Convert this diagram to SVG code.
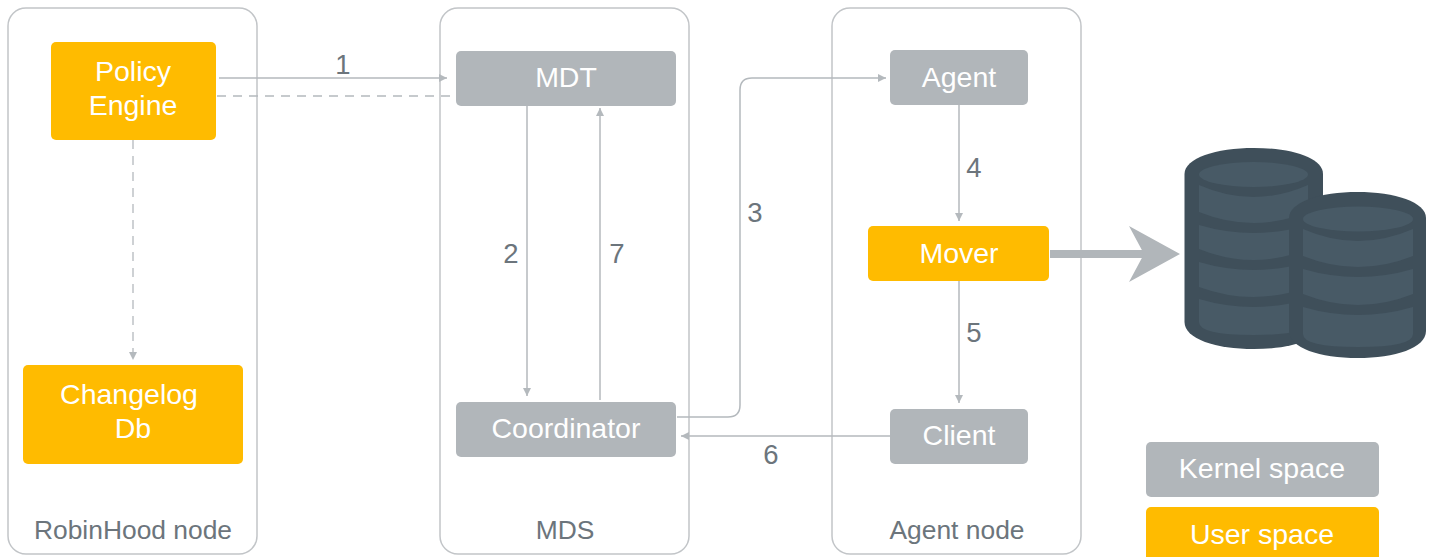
<svg xmlns="http://www.w3.org/2000/svg" width="1433" height="557" viewBox="0 0 1433 557">
<style>
text{font-family:"Liberation Sans",Arial,sans-serif;font-size:28.500px;text-anchor:middle}
.c{fill:none;stroke:#b4b9bd;stroke-width:1.5}
.d{stroke:#b4b9bd;stroke-width:1.300;stroke-dasharray:9 7}
.p{fill:#fff;stroke:#c2c5c8;stroke-width:1.5}
.k{fill:#b1b6ba}
.u{fill:#ffbb00}
.w{fill:#fff}
.g{fill:#6c757c}
.s{font-size:26.400px}
.n{font-size:27.500px}
.dk{fill:#3f4f5a}
.lt{fill:#485a66}
</style>
<defs>
<marker id="a" markerWidth="9" markerHeight="8" refX="8" refY="4" orient="auto" markerUnits="userSpaceOnUse"><path d="M0 0L8 4L0 8z" fill="#b4b9bd"/></marker>
</defs>
<g id="robinhood"><rect class="p" x="8" y="8" width="249" height="546" rx="18"/><text class="g s" x="133" y="539">RobinHood node</text></g>
<g id="mds"><rect class="p" x="440" y="8" width="249" height="546" rx="18"/><text class="g s" x="565" y="539">MDS</text></g>
<g id="agentnode"><rect class="p" x="832" y="8" width="249" height="546" rx="18"/><text class="g s" x="957" y="539">Agent node</text></g>
<g id="connectors">
<path class="c" marker-end="url(#a)" d="M219 78H447"/>
<path class="c d" d="M217 96H455"/>
<path class="c d" marker-end="url(#a)" d="M133 140V360"/>
<path class="c" marker-end="url(#a)" d="M527 106V396"/>
<path class="c" marker-end="url(#a)" d="M600 400V108"/>
<path class="c" marker-end="url(#a)" d="M677 417H728Q740 417 740 405V90Q740 78 752 78H886"/>
<path class="c" marker-end="url(#a)" d="M959 105V221"/>
<path class="c" marker-end="url(#a)" d="M959 281V403"/>
<path class="c" marker-end="url(#a)" d="M890 436H681"/>
<path d="M1050 250H1146V258H1050z" fill="#b1b6ba"/>
<path d="M1129 226L1180 254L1129 282L1144 254z" fill="#b1b6ba"/>
</g>
<g id="labels"><text class="g n" x="343" y="74">1</text><text class="g n" x="511" y="263">2</text><text class="g n" x="617" y="263">7</text><text class="g n" x="755" y="222">3</text><text class="g n" x="974" y="177">4</text><text class="g n" x="974" y="342">5</text><text class="g n" x="771" y="464">6</text></g>
<g id="policy"><rect class="u" x="51" y="42" width="165" height="98" rx="5"/><text class="w" x="133" y="81">Policy</text><text class="w" x="133" y="115">Engine</text></g>
<g id="changelog"><rect class="u" x="23" y="365" width="220" height="99" rx="5"/><text class="w" x="129" y="404">Changelog</text><text class="w" x="133" y="438">Db</text></g>
<g id="mdt"><rect class="k" x="456" y="51" width="220" height="55" rx="5"/><text class="w" x="566" y="87">MDT</text></g>
<g id="coordinator"><rect class="k" x="456" y="402" width="220" height="55" rx="5"/><text class="w" x="566" y="438">Coordinator</text></g>
<g id="agent"><rect class="k" x="890" y="50" width="138" height="55" rx="5"/><text class="w" x="959" y="87">Agent</text></g>
<g id="mover"><rect class="u" x="868" y="226" width="181" height="55" rx="5"/><text class="w" x="959" y="263">Mover</text></g>
<g id="client"><rect class="k" x="890" y="409" width="138" height="55" rx="5"/><text class="w" x="959" y="445">Client</text></g>
<g id="storage">
<path class="dk" d="M1184.500 174C1184.500 158 1216 148 1254 148S1323 158 1323 174V322C1323 339 1292 349 1254 349S1184.500 339 1184.500 322z"/>
<ellipse class="lt" cx="1253.500" cy="174.500" rx="54.500" ry="12.500"/>
<path class="lt" d="M1199 185Q1253.500 209 1308 185V212Q1253.500 234 1199 212z"/>
<path class="lt" d="M1199 225Q1253.500 241 1308 225V249Q1253.500 271 1199 249z"/>
<path class="lt" d="M1199 262Q1253.500 278 1308 262V287Q1253.500 307 1199 287z"/>
<path class="lt" d="M1199 299Q1253.500 315 1308 299V322Q1308 335 1253.500 335T1199 322z"/>
<path class="dk" d="M1289 218C1289 202 1320 192 1357.500 192S1426 202 1426 218V331C1426 348 1395 358 1357.500 358S1289 348 1289 331z"/>
<ellipse class="lt" cx="1358" cy="219" rx="55" ry="12.500"/>
<path class="lt" d="M1303 229Q1358 253 1413 229V256Q1358 278 1303 256z"/>
<path class="lt" d="M1303 269Q1358 285 1413 269V294Q1358 316 1303 294z"/>
<path class="lt" d="M1303 307Q1358 323 1413 307V334Q1413 347 1358 347T1303 334z"/>
</g>
<g id="legend-kernel"><rect class="k" x="1146" y="442" width="233" height="55" rx="5"/><text class="w" x="1262" y="478">Kernel space</text></g>
<g id="legend-user"><rect class="u" x="1146" y="507" width="233" height="55" rx="5"/><text class="w" x="1262" y="544">User space</text></g>
</svg>
